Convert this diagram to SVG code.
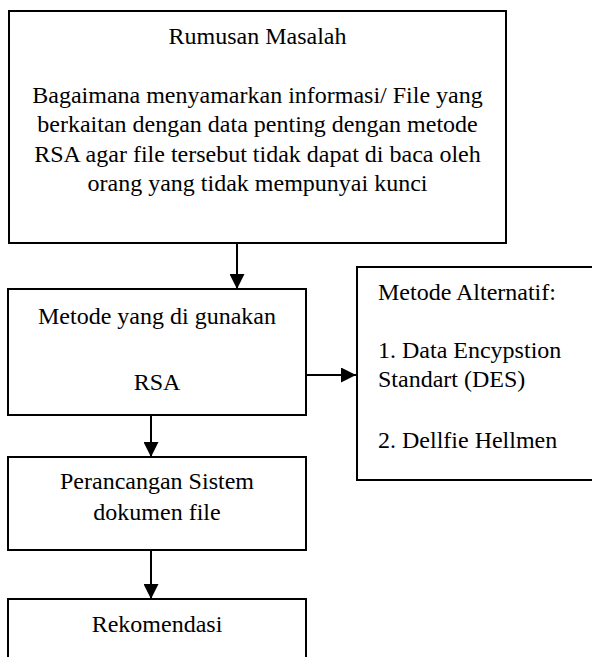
<svg xmlns="http://www.w3.org/2000/svg" width="592" height="657" viewBox="0 0 592 657">
  <style>
    .box { fill: #ffffff; stroke: #000000; stroke-width: 2; }
    .edge { stroke: #000000; stroke-width: 2; fill: none; }
    text { font-family: "Liberation Serif", "Times New Roman", serif; font-size: 24px; fill: #000000; }
    .c { text-anchor: middle; }
  </style>
  <defs>
    <marker id="arrow" markerWidth="15" markerHeight="15" refX="15" refY="7.5" orient="auto" markerUnits="userSpaceOnUse">
      <path d="M0,0 L15,7.5 L0,15 Z" fill="#000000"/>
    </marker>
  </defs>
  <rect width="592" height="657" fill="#ffffff"/>

  <g id="rumusan-masalah">
    <rect class="box" x="9" y="11" width="497" height="232"/>
    <text class="c" x="257.5" y="44">Rumusan Masalah</text>
    <text class="c" x="257.5" y="103">Bagaimana menyamarkan informasi/ File yang</text>
    <text class="c" x="257.5" y="132">berkaitan dengan data penting dengan metode</text>
    <text class="c" x="257.5" y="162">RSA agar file tersebut tidak dapat di baca oleh</text>
    <text class="c" x="257.5" y="191">orang yang tidak mempunyai kunci</text>
  </g>

  <g id="metode">
    <rect class="box" x="8" y="289" width="298" height="126"/>
    <text class="c" x="157" y="324">Metode yang di gunakan</text>
    <text class="c" x="157" y="390">RSA</text>
  </g>

  <g id="metode-alternatif">
    <rect class="box" x="357" y="267" width="245" height="213"/>
    <text x="378" y="300">Metode Alternatif:</text>
    <text x="378" y="358">1. Data Encypstion</text>
    <text x="378" y="387">Standart (DES)</text>
    <text x="378" y="448">2. Dellfie Hellmen</text>
  </g>

  <g id="perancangan">
    <rect class="box" x="8" y="457" width="298" height="93"/>
    <text class="c" x="157" y="489">Perancangan Sistem</text>
    <text class="c" x="157" y="520">dokumen file</text>
  </g>

  <g id="rekomendasi">
    <rect class="box" x="8" y="599" width="298" height="80"/>
    <text class="c" x="157" y="632">Rekomendasi</text>
  </g>

  <g id="connectors">
    <line class="edge" x1="237" y1="243" x2="237" y2="289" marker-end="url(#arrow)"/>
    <line class="edge" x1="306" y1="375" x2="356" y2="375" marker-end="url(#arrow)"/>
    <line class="edge" x1="151" y1="415" x2="151" y2="457" marker-end="url(#arrow)"/>
    <line class="edge" x1="151" y1="550" x2="151" y2="599" marker-end="url(#arrow)"/>
  </g>
</svg>
